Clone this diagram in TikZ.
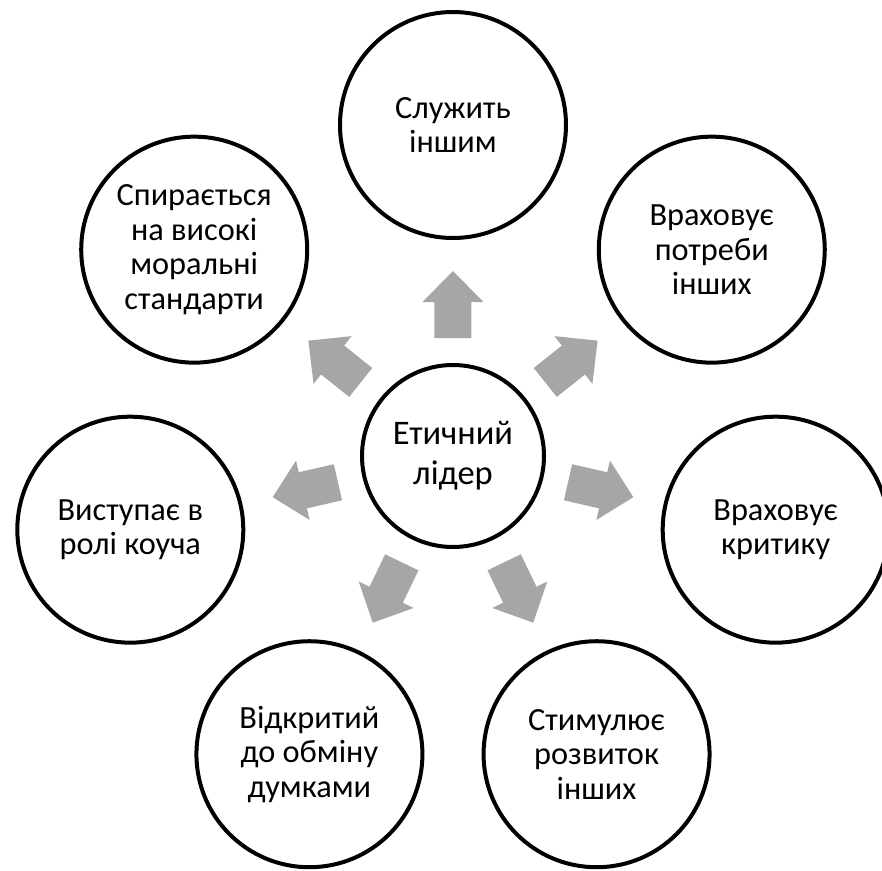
\documentclass[tikz,border=0pt]{standalone}
\usepackage{fontspec}
\setmainfont{Carlito}
\definecolor{arrowgray}{RGB}{166,166,166}
\begin{document}
\begin{tikzpicture}[
  hub/.style={circle,draw,line width=0.1cm,fill=white,inner sep=0pt,
    minimum size=4.55cm,align=center,font=\fontsize{24.5}{28.4}\selectfont},
  trait/.style={circle,draw,line width=0.1cm,fill=white,inner sep=0pt,
    minimum size=5.65cm,align=center,font=\fontsize{23}{24.6}\selectfont}]
\useasboundingbox (-11.325,-10.35) rectangle (10.725,11.4);
\node[hub] (ctr) at (0,0) {Етичний\\лідер};
\node[trait] (n1) at (90:8.275) {Служить\\іншим};
\node[trait] (n2) at (38.57:8.275) {Враховує\\потреби\\інших};
\node[trait] (n3) at (-12.86:8.275) {Враховує\\критику};
\node[trait] (n4) at (-64.29:8.275) {Стимулює\\розвиток\\інших};
\node[trait] (n5) at (-115.71:8.275) {Відкритий\\до обміну\\думками};
\node[trait] (n6) at (-167.14:8.275) {Виступає в\\ролі коуча};
\node[trait] (n7) at (141.43:8.275) {Спирається\\на високі\\моральні\\стандарти};
% block arrows from the hub outwards
\foreach \a in {90,38.57,-12.86,-64.29,-115.71,-167.14,141.43}
  \fill[arrowgray,shift={(ctr.center)},rotate=\a]
    (2.95,-0.4625) -- (3.85,-0.4625) -- (3.85,-0.7625) -- (4.625,0)
    -- (3.85,0.7625) -- (3.85,0.4625) -- (2.95,0.4625) -- cycle;
\end{tikzpicture}
\end{document}
